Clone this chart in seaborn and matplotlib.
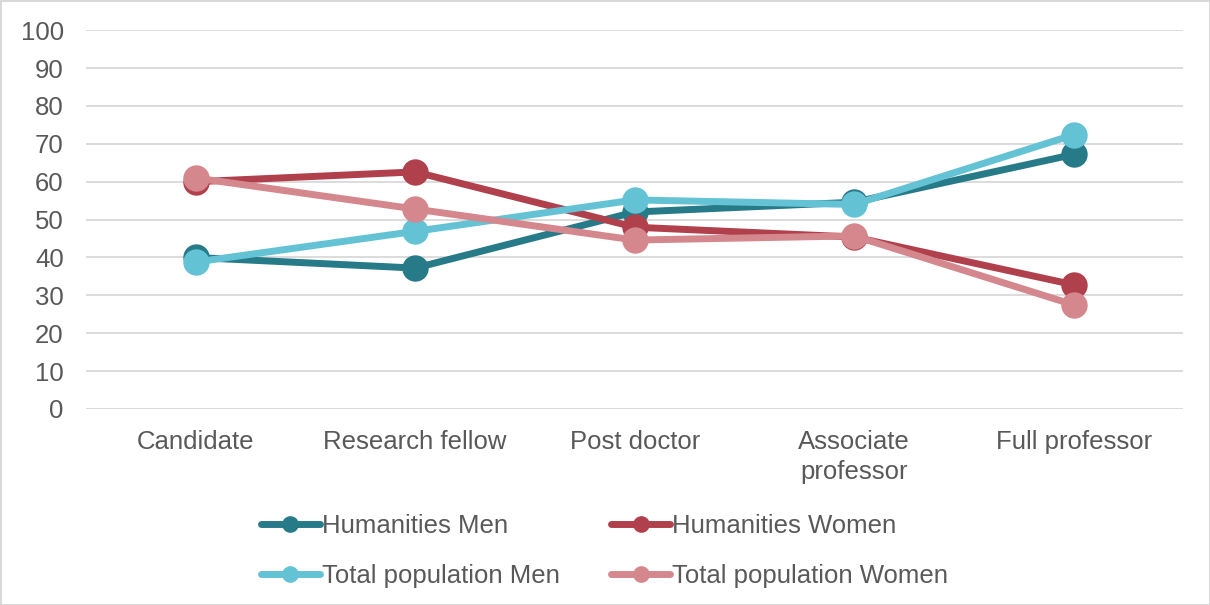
import pandas as pd
import seaborn as sns
import matplotlib.pyplot as plt

stages = ['Candidate', 'Research fellow', 'Post doctor', 'Associate\nprofessor', 'Full professor']
series_names = ['Humanities Men', 'Humanities Women', 'Total population Men', 'Total population Women']
hum_men = [40, 37.2, 52, 54.6, 67.2]
hum_women = [60, 62.6, 48, 45.4, 32.8]
tot_men = [38.8, 46.9, 55.2, 54, 72.4]
tot_women = [61, 52.8, 44.6, 45.7, 27.5]
colors = ['#277a87', '#b0404b', '#63c3d5', '#d5878e']

rows = []
for name, vals in zip(series_names, [hum_men, hum_women, tot_men, tot_women]):
    for st, v in zip(stages, vals):
        rows.append({'stage': st, 'value': v, 'series': name})
df = pd.DataFrame(rows)

sns.set_style('white')
plt.rcParams['font.family'] = ['Liberation Sans', 'DejaVu Sans']

fig = plt.figure(figsize=(12.1, 6.05), dpi=100)
fig.patch.set_edgecolor('#d9d9d9')
fig.patch.set_linewidth(2)
ax = fig.add_axes([0.071, 0.324, 0.907, 0.626])

sns.lineplot(data=df, x='stage', y='value', hue='series', palette=colors,
             marker='o', markersize=19, markeredgewidth=0, linewidth=5,
             sort=False, ax=ax)

ax.set_ylim(0, 100)
ax.set_xlim(-0.5, 4.5)
ax.set_yticks(range(0, 101, 10))
ax.yaxis.grid(True, color='#d9d9d9', linewidth=1.3)
ax.set_axisbelow(True)
for s in ax.spines.values():
    s.set_visible(False)
ax.set_xlabel('')
ax.set_ylabel('')
ax.tick_params(axis='both', length=0, labelsize=18.5, labelcolor='#595959')
ax.tick_params(axis='x', pad=15)
ax.tick_params(axis='y', pad=16)
for t in ax.get_xticklabels():
    t.set_linespacing(1.35)

handles, labels = ax.get_legend_handles_labels()
for h in handles:
    h.set_markersize(12)
    h.set_linewidth(5)
# matplotlib fills legend columns first, so reorder for row-wise layout
order = [0, 2, 1, 3]
ax.legend([handles[i] for i in order], [labels[i] for i in order], ncol=2,
          loc='upper center', bbox_to_anchor=(0.4725, -0.25), borderaxespad=0,
          frameon=False, fontsize=18.5, handlelength=2.3, handletextpad=0.08,
          columnspacing=2.0, labelspacing=1.0, labelcolor='#595959')

fig.savefig('out.png', dpi=100)
